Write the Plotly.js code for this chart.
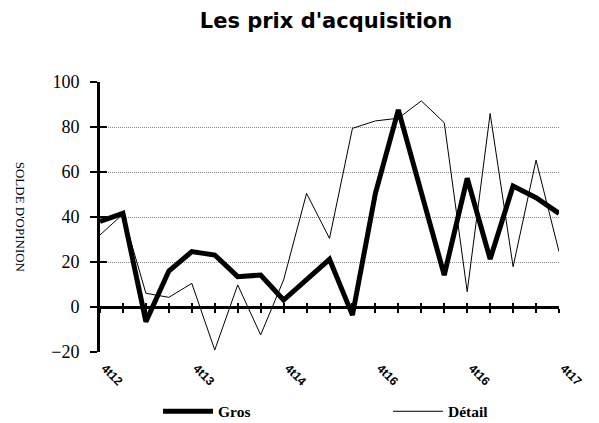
<!DOCTYPE html>
<html>
<head>
<meta charset="utf-8">
<script src="https://cdn.plot.ly/plotly-3.0.1.min.js"></script>
<style>html,body{margin:0;padding:0;background:#fff;}#chart{width:599px;height:423px;}</style>
</head>
<body>
<div id="chart"></div>
<script>
const categories = ["4t12","1t13","2t13","3t13","4t13","1t14","2t14","3t14","4t14","1t15","2t15","3t15","4t15","1t16","2t16","3t16","4t16","1t17","2t17","3t17","4t17"];
const tickCategories = ["4t12","4t13","4t14","4t15","4t16","4t17"];
const tickLabels = ["4t12","4t13","4t14","4t16","4t16","4t17"];
const gros = [38, 41.6, -6.5, 16, 24.6, 23.1, 13.5, 14.2, 3.1, 12, 21.2, -3.6, 50.5, 87.6, 50.5, 14.2, 57.2, 21.3, 53.8, 48.6, 41.6];
const detail = [32, 41.3, 6.1, 4.3, 10.5, -19.1, 9.8, -12.4, 12, 50.5, 30.5, 79.4, 82.7, 83.9, 91.6, 81.9, 6.8, 86, 17.9, 65.3, 24.6];
const seriesNames = ["Gros", "Détail"];

const n = categories.length - 1;
const yRange = [-20, 100];
const allIdx = categories.map((c, i) => i);
const zeroPos = (0 - yRange[0]) / (yRange[1] - yRange[0]);

// empty helper traces so that the extra (tick-only) axes get drawn
const helper = (xa, ya) => ({x: [], y: [], type: 'scatter', mode: 'lines', xaxis: xa, yaxis: ya, showlegend: false, hoverinfo: 'skip'});

const traces = [
  helper('x2', 'y'), helper('x3', 'y'), helper('x', 'y2'),
  {x: categories, y: gros, name: seriesNames[0], type: 'scatter', mode: 'lines',
   line: {color: '#000', width: 5}, xaxis: 'x', yaxis: 'y', legend: 'legend', hoverinfo: 'skip'},
  {x: categories, y: detail, name: seriesNames[1], type: 'scatter', mode: 'lines',
   line: {color: '#000', width: 1}, xaxis: 'x', yaxis: 'y', legend: 'legend2', hoverinfo: 'skip'}
];

const legendFont = {family: 'Liberation Serif', size: 15.5, color: '#000', weight: 'bold'};

const layout = {
  width: 599, height: 423,
  margin: {l: 100, r: 40, t: 82, b: 71},
  paper_bgcolor: '#fff', plot_bgcolor: '#fff',
  showlegend: true,
  title: {text: "Les prix d'acquisition", font: {family: 'DejaVu Sans', size: 21, color: '#000', weight: 'bold'},
          x: 326/599, xref: 'container', xanchor: 'center', y: 1 - 28/423, yref: 'container', yanchor: 'bottom'},
  xaxis: {type: 'category', categoryorder: 'array', categoryarray: categories, range: [0, n],
          tickmode: 'array', tickvals: tickCategories, ticktext: tickLabels, tickangle: 45,
          ticklabelshift: 5, ticklabelstandoff: 6,
          tickfont: {family: 'Liberation Sans', size: 12, color: '#000', weight: 'bold'},
          showline: false, ticks: '', showgrid: false, zeroline: false, fixedrange: true},
  xaxis2: {overlaying: 'x', anchor: 'free', position: zeroPos, range: [0, n], type: 'linear',
           tickmode: 'array', tickvals: allIdx, showticklabels: false, ticks: 'outside', ticklen: 4, tickwidth: 2, tickcolor: '#000',
           showline: true, linewidth: 3, linecolor: '#000', showgrid: false, zeroline: false},
  xaxis3: {overlaying: 'x', anchor: 'free', position: zeroPos, range: [0, n], type: 'linear',
           tickmode: 'array', tickvals: allIdx, showticklabels: false, ticks: 'inside', ticklen: 4, tickwidth: 2, tickcolor: '#000',
           showline: false, showgrid: false, zeroline: false},
  yaxis: {range: yRange, dtick: 20, tick0: 0, ticks: 'outside', ticklen: 7, tickwidth: 2, tickcolor: '#000',
          showline: true, linewidth: 3, linecolor: '#000', showgrid: true, gridcolor: '#888', griddash: '1px,1px', gridwidth: 1,
          ticklabelstandoff: 7,
          zeroline: false, tickfont: {family: 'Liberation Serif', size: 18, color: '#000'}, fixedrange: true},
  yaxis2: {overlaying: 'y', anchor: 'x', side: 'left', range: yRange, dtick: 20, tick0: 0, ticks: 'inside', ticklen: 7, tickwidth: 2,
           tickcolor: '#000', showticklabels: false, showline: false, showgrid: false, zeroline: false},
  legend: {orientation: 'h', xref: 'container', yref: 'container', x: 158/599, xanchor: 'left', y: 1 - 411.7/423, yanchor: 'middle',
           itemwidth: 50, font: legendFont, bgcolor: 'rgba(0,0,0,0)'},
  legend2: {orientation: 'h', xref: 'container', yref: 'container', x: 388/599, xanchor: 'left', y: 1 - 411.7/423, yanchor: 'middle',
           itemwidth: 50, font: legendFont, bgcolor: 'rgba(0,0,0,0)'},
  annotations: [{text: "SOLDE D'OPINION", textangle: 90, xref: 'paper', yref: 'paper',
                 x: (20-100)/459, y: (352-216.7)/270, xanchor: 'center', yanchor: 'middle', showarrow: false,
                 font: {family: 'Liberation Serif', size: 13, color: '#000'}}]
};

Plotly.newPlot('chart', traces, layout, {displayModeBar: false, staticPlot: true});
</script>
</body>
</html>
